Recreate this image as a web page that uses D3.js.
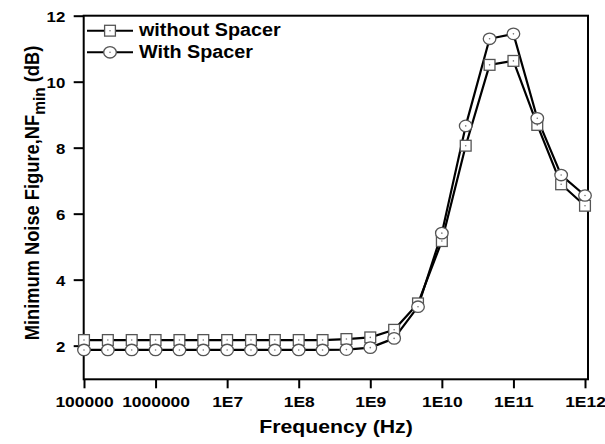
<!DOCTYPE html>
<html><head><meta charset="utf-8">
<script src="https://cdn.jsdelivr.net/npm/d3@7"></script>
<style>
html,body{margin:0;padding:0;background:#fff;}
svg text{font-family:"Liberation Sans",Arial,sans-serif;font-weight:bold;fill:#000;}
</style></head>
<body>
<svg id="chart" width="605" height="444"></svg>
<script>
// Frequencies (Hz), 3 points per decade
const freqs = [1e5, 2.154e5, 4.642e5, 1e6, 2.154e6, 4.642e6, 1e7, 2.154e7, 4.642e7, 1e8, 2.154e8, 4.642e8,
               1e9, 2.154e9, 4.642e9, 1e10, 2.154e10, 4.642e10, 1e11, 2.154e11, 4.642e11, 1e12];
const withoutSpacer = [2.17, 2.17, 2.17, 2.17, 2.17, 2.17, 2.17, 2.17, 2.17, 2.17, 2.17, 2.2,
                       2.25, 2.48, 3.28, 5.17, 8.06, 10.51, 10.63, 8.69, 6.89, 6.24];
const withSpacer = [1.87, 1.87, 1.87, 1.87, 1.87, 1.87, 1.87, 1.87, 1.87, 1.87, 1.87, 1.88,
                    1.94, 2.22, 3.18, 5.41, 8.66, 11.30, 11.45, 8.89, 7.17, 6.55];
const xTickValues = [1e5, 1e6, 1e7, 1e8, 1e9, 1e10, 1e11, 1e12];
const xTickLabels = ["100000", "1000000", "1E7", "1E8", "1E9", "1E10", "1E11", "1E12"];
const yTickValues = [2, 4, 6, 8, 10, 12];
const seriesNames = ["without Spacer", "With Spacer"];

const svg = d3.select("#chart");
const pL = 83.7, pR = 588, pT = 15.7, pB = 379.3;
const SX = 1.12; // horizontal stretch of the original picture

const x = d3.scaleLog().domain([1e5, 1e12]).range([84, 585]);
const y = d3.scaleLinear().domain([0.98, 12]).range([pB, pT]);

// axes
const xAxis = d3.axisBottom(x).tickValues(xTickValues)
  .tickFormat((d, i) => xTickLabels[i]).tickSize(9).tickPadding(6);
const gx = svg.append("g").attr("transform", `translate(0,${pB})`).call(xAxis);
gx.select(".domain").remove();
gx.selectAll(".tick line").attr("stroke", "#000").attr("stroke-width", 2);
gx.selectAll(".tick text").attr("font-size", 15.3).attr("y", 28).attr("dy", 0)
  .attr("transform", `scale(${SX + 0.02},1)`).attr("fill", "#000")
  .style("font-family", '"Liberation Sans",Arial,sans-serif').style("font-weight", "bold");

const yAxis = d3.axisLeft(y).tickValues(yTickValues).tickSize(10).tickFormat(d3.format("d"));
const gy = svg.append("g").attr("transform", `translate(${pL},0)`).call(yAxis);
gy.select(".domain").remove();
gy.selectAll(".tick line").attr("stroke", "#000").attr("stroke-width", 2);
gy.selectAll(".tick text").attr("font-size", 15).attr("x", -16.5).attr("dy", "0.36em")
  .attr("transform", `scale(${SX},1)`).attr("fill", "#000")
  .style("font-family", '"Liberation Sans",Arial,sans-serif').style("font-weight", "bold");

// frame
svg.append("rect").attr("x", pL).attr("y", pT)
  .attr("width", pR - pL).attr("height", pB - pT)
  .attr("fill", "none").attr("stroke", "#000").attr("stroke-width", 2);

// lines
const line = d3.line().x((d, i) => x(freqs[i])).y(d => y(d));
[withoutSpacer, withSpacer].forEach(vals => {
  svg.append("path").datum(vals).attr("d", line)
    .attr("fill", "none").attr("stroke", "#000").attr("stroke-width", 2.2)
    .attr("stroke-linejoin", "round");
});

function square(g, cx, cy) {
  g.append("rect").attr("x", cx - 5.4).attr("y", cy - 5.4).attr("width", 10.8).attr("height", 10.8)
    .attr("fill", "#fff").attr("stroke", "#555").attr("stroke-width", 1.3);
  g.append("circle").attr("cx", cx).attr("cy", cy).attr("r", 0.8).attr("fill", "#777");
}
function circ(g, cx, cy) {
  g.append("ellipse").attr("cx", cx).attr("cy", cy).attr("rx", 6.3).attr("ry", 5.7)
    .attr("fill", "#fff").attr("stroke", "#555").attr("stroke-width", 1.3);
  g.append("circle").attr("cx", cx).attr("cy", cy).attr("r", 0.8).attr("fill", "#777");
}
const gm = svg.append("g");
withoutSpacer.forEach((v, i) => square(gm, x(freqs[i]), y(v)));
withSpacer.forEach((v, i) => circ(gm, x(freqs[i]), y(v)));

// legend
const lg = svg.append("g");
[[30.7, square], [52.3, circ]].forEach(([ly, fn], i) => {
  lg.append("line").attr("x1", 87).attr("x2", 133).attr("y1", ly).attr("y2", ly)
    .attr("stroke", "#000").attr("stroke-width", 2);
  fn(lg, 110, ly);
  lg.append("text").attr("transform", `translate(139,${ly + 5.6}) scale(1.13,1)`)
    .attr("font-size", 17.5).text(seriesNames[i]);
});

// axis titles
svg.append("text").attr("transform", `translate(336,432.5) scale(1.15,1)`)
  .attr("text-anchor", "middle").attr("font-size", 18.5).text("Frequency (Hz)");

const yt = svg.append("text").attr("transform", `translate(39,193) scale(${SX},1) rotate(-90)`)
  .attr("text-anchor", "middle").attr("font-size", 18.3);
yt.append("tspan").text("Minimum Noise Figure,NF");
yt.append("tspan").attr("dy", 5).attr("font-size", 15.5).text("min");
yt.append("tspan").attr("dy", -5).text(" (dB)");
</script>
</body></html>
